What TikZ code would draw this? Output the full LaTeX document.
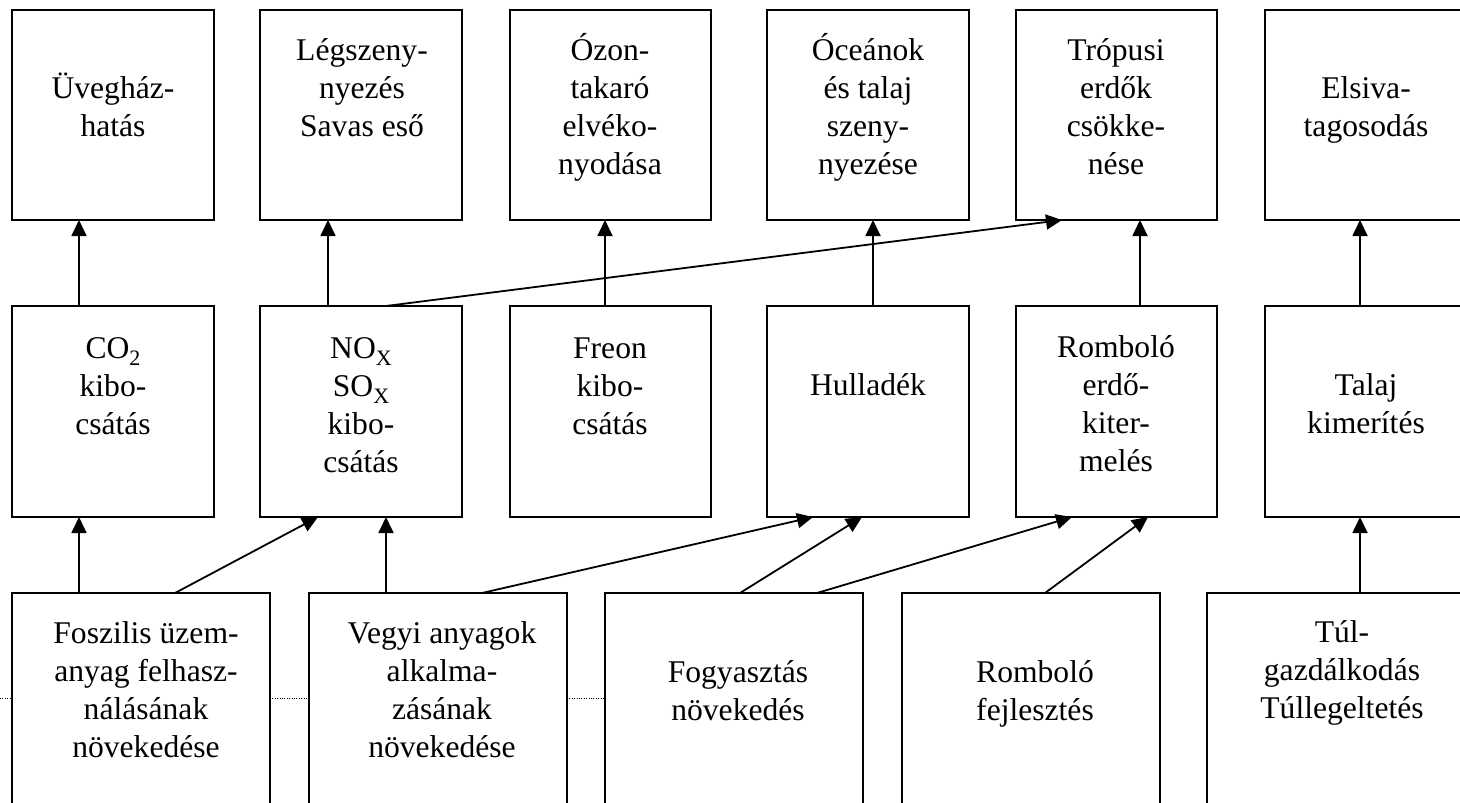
\documentclass[tikz,border=0pt]{standalone}
\usepackage{fontspec}
\setmainfont{Liberation Serif}
\usetikzlibrary{arrows.meta}
\begin{document}
\begin{tikzpicture}[x=1pt,y=-1pt,
  box/.style={draw, line width=2pt, inner sep=0pt, outer sep=0pt, anchor=north west},
  topbox/.style={box, minimum width=#1, minimum height=210pt},
  midbox/.style={box, minimum width=#1, minimum height=211pt},
  botbox/.style={box, minimum width=258pt, minimum height=240pt},
  txt/.style={anchor=north, align=center, inner sep=0pt, outer sep=0pt,
    font=\fontsize{31.6}{38.3}\selectfont},
  arr/.style={line width=1.8pt, -{Triangle[length=16pt,width=15pt]}},
  dotline/.style={line width=0.9pt, dash pattern=on 1pt off 1.4pt}]
\newcommand{\fs}{\rule{0pt}{30pt}}
\newcommand{\sbx}[1]{\raisebox{-7pt}{\fontsize{22}{22}\selectfont #1}}
\useasboundingbox (0,0) rectangle (1460,803);
\clip (0,0) rectangle (1460,803);
\fill[white] (0,0) rectangle (1460,803);
% top row
\node[topbox=202pt] (t1) at (12,10) {};
\node[topbox=202pt] (t2) at (260,10) {};
\node[topbox=201pt] (t3) at (509.5,10) {};
\node[topbox=202pt] (t4) at (767,10) {};
\node[topbox=201pt] (t5) at (1016,10) {};
\node[topbox=202pt] (t6) at (1265,10) {};
% middle row
\node[midbox=202pt] (m1) at (12,306) {};
\node[midbox=202pt] (m2) at (260,306) {};
\node[midbox=201pt] (m3) at (509.5,306) {};
\node[midbox=202pt] (m4) at (767,306) {};
\node[midbox=201pt] (m5) at (1016,306) {};
\node[midbox=202pt] (m6) at (1265,306) {};
% bottom row
\node[botbox] (b1) at (12,593) {};
\node[botbox] (b2) at (309,593) {};
\node[botbox] (b3) at (605,593) {};
\node[botbox] (b4) at (902,593) {};
\node[botbox] (b5) at (1207,593) {};
% texts top
\node[txt] (tt1) at (113,68) {\fs Üvegház-\\hatás};
\node[txt] (tt2) at (362,30) {\fs Légszeny-\\nyezés\\Savas eső};
\node[txt] (tt3) at (610,30) {\fs Ózon-\\takaró\\elvéko-\\nyodása};
\node[txt] (tt4) at (868,30) {\fs Óceánok\\és talaj\\szeny-\\nyezése};
\node[txt] (tt5) at (1116,30) {\fs Trópusi\\erdők\\csökke-\\nése};
\node[txt] (tt6) at (1366,68) {\fs Elsiva-\\tagosodás};
% texts middle
\node[txt] (mt1) at (113,328) {\fs CO\sbx{2}\\kibo-\\csátás};
\node[txt] (mt2) at (361,328) {\fs NO\sbx{X}\\SO\sbx{X}\\kibo-\\csátás};
\node[txt] (mt3) at (610,328) {\fs Freon\\kibo-\\csátás};
\node[txt] (mt4) at (868,365) {\fs Hulladék};
\node[txt] (mt5) at (1116,327) {\fs Romboló\\erdő-\\kiter-\\melés};
\node[txt] (mt6) at (1366,365) {\fs Talaj\\kimerítés};
% texts bottom
\node[txt] (bt1) at (146,613) {\fs Foszilis üzem-\\anyag felhasz-\\nálásának\\növekedése};
\node[txt] (bt2) at (442,613) {\fs Vegyi anyagok\\alkalma-\\zásának\\növekedése};
\node[txt] (bt3) at (738,652) {\fs Fogyasztás\\növekedés};
\node[txt] (bt4) at (1035,652) {\fs Romboló\\fejlesztés};
\node[txt] (bt5) at (1342,612) {\fs Túl-\\gazdálkodás\\Túllegeltetés};
% arrows middle -> top
\draw[arr] ([xshift=67pt]m1.north west) -- ([xshift=67pt]t1.south west);
\draw[arr] ([xshift=68pt]m2.north west) -- ([xshift=68pt]t2.south west);
\draw[arr] ([xshift=95.5pt]m3.north west) -- ([xshift=95.5pt]t3.south west);
\draw[arr] ([xshift=106pt]m4.north west) -- ([xshift=106pt]t4.south west);
\draw[arr] ([xshift=124pt]m5.north west) -- ([xshift=124pt]t5.south west);
\draw[arr] ([xshift=95pt]m6.north west) -- ([xshift=95pt]t6.south west);
\draw[arr] ([xshift=126pt]m2.north west) -- ([xshift=46pt]t5.south west);
% arrows bottom -> middle
\draw[arr] ([xshift=67pt]b1.north west) -- ([xshift=67pt]m1.south west);
\draw[arr] ([xshift=163pt]b1.north west) -- ([xshift=58pt]m2.south west);
\draw[arr] ([xshift=77pt]b2.north west) -- ([xshift=126pt]m2.south west);
\draw[arr] ([xshift=173pt]b2.north west) -- ([xshift=46pt]m4.south west);
\draw[arr] ([xshift=135pt]b3.north west) -- ([xshift=95pt]m4.south west);
\draw[arr] ([xshift=212pt]b3.north west) -- ([xshift=56pt]m5.south west);
\draw[arr] ([xshift=143pt]b4.north west) -- ([xshift=132pt]m5.south west);
\draw[arr] ([xshift=153pt]b5.north west) -- ([xshift=95pt]m6.south west);
% dotted lines
\coordinate (L) at (0,698.5);
\draw[dotline] (L) -- (L -| b1.west);
\draw[dotline] (L -| b1.east) -- (L -| b2.west);
\draw[dotline] (L -| b2.east) -- (L -| b3.west);
\end{tikzpicture}
\end{document}
